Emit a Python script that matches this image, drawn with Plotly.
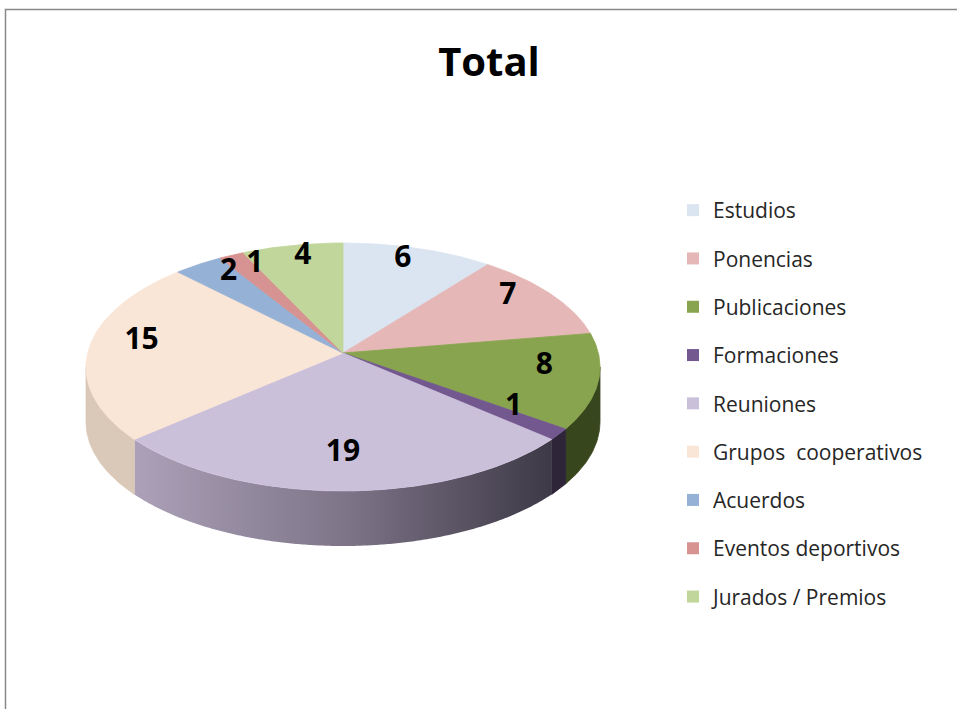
import numpy as np
import plotly.graph_objects as go

# ---- data ----
categories = ["Estudios", "Ponencias", "Publicaciones", "Formaciones", "Reuniones",
              "Grupos  cooperativos", "Acuerdos", "Eventos deportivos", "Jurados / Premios"]
values = [6, 7, 8, 1, 19, 15, 2, 1, 4]

# ---- styles ----
top_colors = ["#dbe5f1", "#e5b8b7", "#88a44e", "#735890", "#cbc0da",
              "#fae6d7", "#95b1d6", "#d69391", "#c1d69a"]
side_colors = ["#b9c3cf", "#c29c9b", "#38461e", "#2f2539", None,
               "#dac9b8", "#7c95b5", "#b57b79", "#a3b682"]
reunion_grad = [[0, "#aca1b8"], [0.5, "#7e7589"], [1, "#3d3946"]]

W, H = 957, 709
CX, CY = 343, 367      # ellipse centre (px-like axis units)
RX, RY = 257, 124      # ellipse radii
APEX_Y = 353           # apex of the slices (perspective)
DEPTH = 55             # thickness of the pie

total = float(sum(values))
ends = np.cumsum(values) / total * 360.0
starts = np.concatenate([[0.0], ends[:-1]])


def arc(a, b, dy=0.0):
    n = max(int(abs(b - a) * 2), 2)
    t = np.radians(np.linspace(a, b, n))
    return CX + RX * np.sin(t), CY - RY * np.cos(t) + dy


fig = go.Figure()

# side walls (front half only)
for i, (a0, b0) in enumerate(zip(starts, ends)):
    a, b = max(a0, 90.0), min(b0, 270.0)
    if a >= b:
        continue
    xt, yt = arc(a, b)
    xb, yb = arc(b, a, DEPTH)
    xs = np.concatenate([xt, xb, xt[:1]])
    ys = np.concatenate([yt, yb, yt[:1]])
    if side_colors[i] is None:
        fig.add_trace(go.Scatter(x=xs, y=ys, mode="none", fill="toself",
                                 fillgradient=dict(type="horizontal", colorscale=reunion_grad),
                                 showlegend=False, hoverinfo="skip"))
    else:
        fig.add_trace(go.Scatter(x=xs, y=ys, mode="lines", fill="toself",
                                 fillcolor=side_colors[i],
                                 line=dict(color=side_colors[i], width=0.8),
                                 showlegend=False, hoverinfo="skip"))

# top faces
for i, (a0, b0) in enumerate(zip(starts, ends)):
    xa, ya = arc(a0, b0)
    xs = np.concatenate([[CX], xa, [CX]])
    ys = np.concatenate([[APEX_Y], ya, [APEX_Y]])
    fig.add_trace(go.Scatter(x=xs, y=ys, mode="lines", fill="toself",
                             fillcolor=top_colors[i],
                             line=dict(color=top_colors[i], width=0.8),
                             showlegend=False, hoverinfo="skip"))

# value labels
mid = np.radians((starts + ends) / 2)
lx = CX + 0.79 * RX * np.sin(mid)
ly = 354 - 0.80 * RY * np.cos(mid)
fig.add_trace(go.Scatter(x=lx, y=ly, mode="text", text=[str(v) for v in values],
                         textfont=dict(family="Open Sans", size=30, color="#000000", weight="bold"),
                         showlegend=False, hoverinfo="skip"))

# legend entries
for i, name in enumerate(categories):
    fig.add_trace(go.Scatter(x=[None], y=[None], mode="markers", name=name,
                             marker=dict(symbol="square", size=12, color=top_colors[i]),
                             legendgroup=f"g{i}", showlegend=True))

fig.update_layout(
    width=W, height=H, autosize=False,
    margin=dict(l=0, r=0, t=0, b=0),
    paper_bgcolor="white", plot_bgcolor="white",
    hovermode=False,
    xaxis=dict(range=[0, W], visible=False, domain=[0, 1], fixedrange=True),
    yaxis=dict(range=[H, 0], visible=False, domain=[0, 1], fixedrange=True),
    title=dict(text="<b>Total</b>", x=489 / W, xanchor="center",
               y=1 - 62 / H, yanchor="middle",
               font=dict(family="Open Sans", size=40, color="#000000")),
    legend=dict(x=673 / W, xanchor="left", y=1 - 190 / H, yanchor="top",
                font=dict(family="Open Sans", size=21, color="#262626"),
                tracegroupgap=18, traceorder="grouped",
                bgcolor="rgba(0,0,0,0)"),
    shapes=[dict(type="rect", xref="paper", yref="paper",
                 x0=5.5 / W, x1=1.05, y0=1 - 9.5 / H, y1=-0.05,
                 line=dict(color="#888888", width=1.5))],
)

fig.write_html("out.html", config={"displayModeBar": False},
               post_script="document.body.style.margin='0px';")
